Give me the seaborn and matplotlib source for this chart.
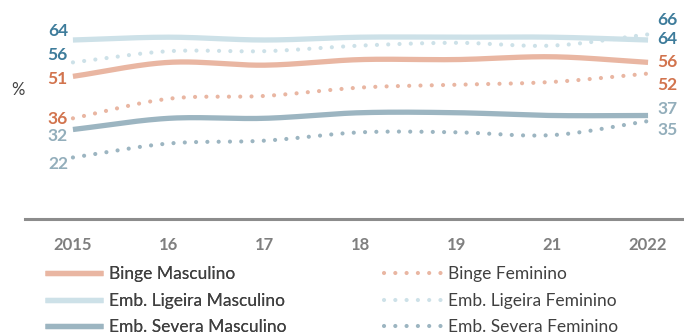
import numpy as np
import pandas as pd
import matplotlib
matplotlib.use("Agg")
import matplotlib.pyplot as plt
import seaborn as sns

# Years on the horizontal axis
years = ["2015", "16", "17", "18", "19", "21", "2022"]

# Prevalence (%) by indicator and sex
binge_masc = [51, 56, 55, 57, 57, 58, 56]
binge_fem = [36, 43, 44, 47, 48, 49, 52]
lig_masc = [64, 65, 64, 65, 65, 65, 64]
lig_fem = [56, 60, 60, 62, 63, 62, 66]
sev_masc = [32, 36, 36, 38, 38, 37, 37]
sev_fem = [22, 27, 28, 31, 31, 30, 35]

names = ["Binge Masculino", "Binge Feminino",
         "Emb. Ligeira Masculino", "Emb. Ligeira Feminino",
         "Emb. Severa Masculino", "Emb. Severa Feminino"]
series = [binge_masc, binge_fem, lig_masc, lig_fem, sev_masc, sev_fem]

sns.set_theme(style="white")
plt.rcParams["font.family"] = ["Lato", "DejaVu Sans"]

line_col = {"Binge": "#E9B6A2", "Ligeira": "#CDE1E8", "Severa": "#9CB5C1"}
lab_col = {"Binge": "#D2744E", "Ligeira": "#3E7C9B", "Severa": "#93AEBB"}


def group(name):
    for k in line_col:
        if k in name:
            return k


def smooth(x, y, n=24):
    """Catmull-Rom curve through the points, like a smoothed line chart."""
    x = np.asarray(x, float)
    y = np.asarray(y, float)
    px = np.concatenate([[2 * x[0] - x[1]], x, [2 * x[-1] - x[-2]]])
    py = np.concatenate([[2 * y[0] - y[1]], y, [2 * y[-1] - y[-2]]])
    xs, ys = [], []
    t = np.linspace(0, 1, n, endpoint=False)
    for i in range(1, len(px) - 2):
        for arr, out in ((px, xs), (py, ys)):
            p0, p1, p2, p3 = arr[i - 1], arr[i], arr[i + 1], arr[i + 2]
            out.extend(0.5 * ((2 * p1) + (-p0 + p2) * t
                              + (2 * p0 - 5 * p1 + 4 * p2 - p3) * t ** 2
                              + (-p0 + 3 * p1 - 3 * p2 + p3) * t ** 3))
    xs.append(x[-1])
    ys.append(y[-1])
    return np.array(xs), np.array(ys)


fig = plt.figure(figsize=(6.84, 3.35), dpi=100)
ax = fig.add_axes([25 / 684, 116 / 335, 1 - 25 / 684, 219 / 335])

xpos = np.arange(len(years))
dotted = (0, (0.01, 2.7))
handles = {}
for name, vals in zip(names, series):
    sx, sy = smooth(xpos, vals)
    df = pd.DataFrame({"x": sx, "y": sy})
    g = group(name)
    if "Feminino" in name:
        kw = dict(linestyle=dotted, linewidth=3.0, dash_capstyle="round")
    else:
        kw = dict(linestyle="-", linewidth=3.8, solid_capstyle="butt")
    sns.lineplot(data=df, x="x", y="y", ax=ax, color=line_col[g],
                 sort=False, estimator=None, label=name, legend=False, **kw)
    handles[name] = ax.lines[-1]

# Start / end value labels (pixel offsets keep neighbouring labels apart)
left_off = {"Binge Masculino": 3, "Binge Feminino": 1,
            "Emb. Ligeira Masculino": -9, "Emb. Ligeira Feminino": -7,
            "Emb. Severa Masculino": 7, "Emb. Severa Feminino": 7}
right_off = {"Binge Masculino": 0, "Binge Feminino": 11,
             "Emb. Ligeira Masculino": -1, "Emb. Ligeira Feminino": -14,
             "Emb. Severa Masculino": -7, "Emb. Severa Feminino": 9}
for name, vals in zip(names, series):
    c = lab_col[group(name)]
    ax.annotate(f"{vals[0]}", (xpos[0], vals[0]), xytext=(-5, -left_off[name]),
                textcoords="offset pixels", ha="right", va="center",
                fontsize=12.5, fontweight="bold", color=c, annotation_clip=False)
    ax.annotate(f"{vals[-1]}", (xpos[-1], vals[-1]), xytext=(9, -right_off[name]),
                textcoords="offset pixels", ha="left", va="center",
                fontsize=12.5, fontweight="bold", color=c, annotation_clip=False)

ax.set_xlim(-0.5, 6.375)
ax.set_ylim(0, 78.3)
ax.set_xticks(xpos)
ax.set_xticklabels(years, fontsize=12, fontweight="bold", color="#7F7F7F")
ax.tick_params(axis="x", length=0, pad=13)
ax.set_yticks([])
ax.set_xlabel("")
ax.set_ylabel("")
for s in ("top", "right", "left"):
    ax.spines[s].set_visible(False)
ax.spines["bottom"].set_color("#8C8C8C")
ax.spines["bottom"].set_linewidth(2.2)

fig.text(18 / 684, 1 - 90 / 335, "%", fontsize=12, color="#404040",
         ha="center", va="center")

legend_kw = dict(loc="upper left", frameon=False, fontsize=12.5,
                 handlelength=3.34, handletextpad=0.35, labelspacing=0.61,
                 labelcolor="#404040", borderaxespad=0, borderpad=0)
masc = ["Binge Masculino", "Emb. Ligeira Masculino", "Emb. Severa Masculino"]
fem = ["Binge Feminino", "Emb. Ligeira Feminino", "Emb. Severa Feminino"]
leg1 = fig.legend([handles[n] for n in masc], masc,
                  bbox_to_anchor=(45 / 684, 1 - 266 / 335), **legend_kw)
fig.add_artist(leg1)
fig.legend([handles[n] for n in fem], fem,
           bbox_to_anchor=(384 / 684, 1 - 266 / 335), **legend_kw)

fig.savefig("out.png", dpi=100)
